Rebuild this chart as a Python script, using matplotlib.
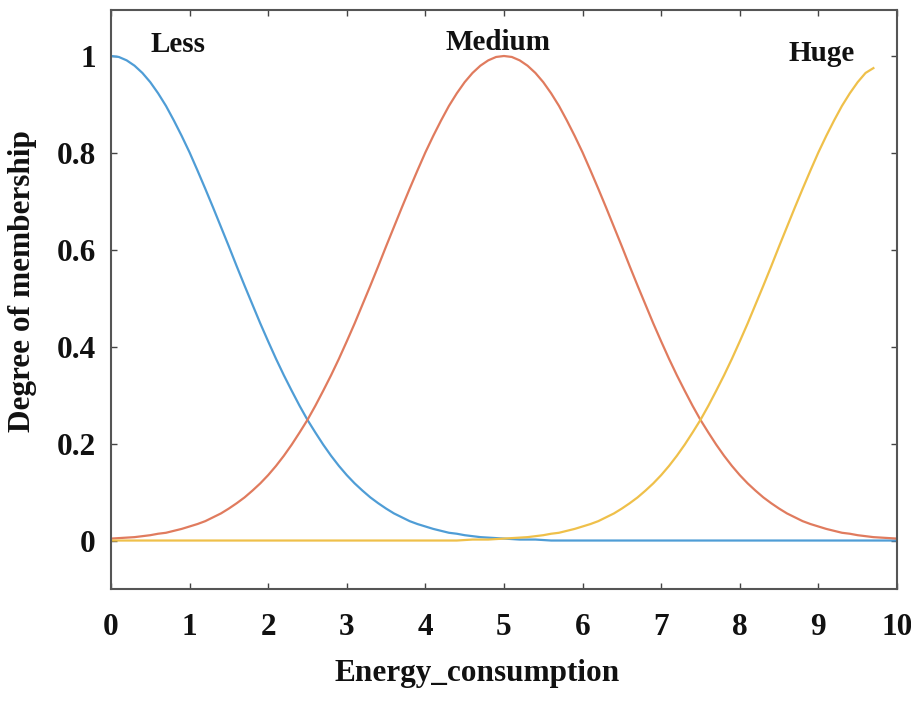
import matplotlib
matplotlib.use("Agg")
import matplotlib.pyplot as plt

# x samples (Energy_consumption)
energy = [0.0, 0.1, 0.2, 0.3, 0.4, 0.5, 0.6, 0.7, 0.8, 0.9,
          1.0, 1.1, 1.2, 1.3, 1.4, 1.5, 1.6, 1.7, 1.8, 1.9,
          2.0, 2.1, 2.2, 2.3, 2.4, 2.5, 2.6, 2.7, 2.8, 2.9,
          3.0, 3.1, 3.2, 3.3, 3.4, 3.5, 3.6, 3.7, 3.8, 3.9,
          4.0, 4.1, 4.2, 4.3, 4.4, 4.5, 4.6, 4.7, 4.8, 4.9,
          5.0, 5.1, 5.2, 5.3, 5.4, 5.5, 5.6, 5.7, 5.8, 5.9,
          6.0, 6.1, 6.2, 6.3, 6.4, 6.5, 6.6, 6.7, 6.8, 6.9,
          7.0, 7.1, 7.2, 7.3, 7.4, 7.5, 7.6, 7.7, 7.8, 7.9,
          8.0, 8.1, 8.2, 8.3, 8.4, 8.5, 8.6, 8.7, 8.8, 8.9,
          9.0, 9.1, 9.2, 9.3, 9.4, 9.5, 9.6, 9.7, 9.8, 9.9,
          10.0]

less = [1.000, 0.998, 0.991, 0.980, 0.965, 0.946, 0.923, 0.897, 0.867, 0.835,
        0.801, 0.764, 0.726, 0.687, 0.647, 0.607, 0.566, 0.526, 0.487, 0.448,
        0.411, 0.375, 0.341, 0.309, 0.278, 0.249, 0.223, 0.198, 0.175, 0.154,
        0.135, 0.118, 0.103, 0.089, 0.077, 0.066, 0.056, 0.048, 0.040, 0.034,
        0.029, 0.024, 0.020, 0.016, 0.014, 0.011, 0.009, 0.007, 0.006, 0.005,
        0.004, 0.003, 0.002, 0.002, 0.002, 0.001, 0.0, 0.0, 0.0, 0.0,
        0.0, 0.0, 0.0, 0.0, 0.0, 0.0, 0.0, 0.0, 0.0, 0.0,
        0.0, 0.0, 0.0, 0.0, 0.0, 0.0, 0.0, 0.0, 0.0, 0.0,
        0.0, 0.0, 0.0, 0.0, 0.0, 0.0, 0.0, 0.0, 0.0, 0.0,
        0.0, 0.0, 0.0, 0.0, 0.0, 0.0, 0.0, 0.0, 0.0, 0.0,
        0.0]

medium = [0.004, 0.005, 0.006, 0.007, 0.009, 0.011, 0.014, 0.016, 0.020, 0.024,
          0.029, 0.034, 0.040, 0.048, 0.056, 0.066, 0.077, 0.089, 0.103, 0.118,
          0.135, 0.154, 0.175, 0.198, 0.223, 0.249, 0.278, 0.309, 0.341, 0.375,
          0.411, 0.448, 0.487, 0.526, 0.566, 0.607, 0.647, 0.687, 0.726, 0.764,
          0.801, 0.835, 0.867, 0.897, 0.923, 0.946, 0.965, 0.980, 0.991, 0.998,
          1.000, 0.998, 0.991, 0.980, 0.965, 0.946, 0.923, 0.897, 0.867, 0.835,
          0.801, 0.764, 0.726, 0.687, 0.647, 0.607, 0.566, 0.526, 0.487, 0.448,
          0.411, 0.375, 0.341, 0.309, 0.278, 0.249, 0.223, 0.198, 0.175, 0.154,
          0.135, 0.118, 0.103, 0.089, 0.077, 0.066, 0.056, 0.048, 0.040, 0.034,
          0.029, 0.024, 0.020, 0.016, 0.014, 0.011, 0.009, 0.007, 0.006, 0.005,
          0.004]

# the Huge curve stops at x = 9.7 in the reference
energy_huge = energy[:98]
huge = [0.0, 0.0, 0.0, 0.0, 0.0, 0.0, 0.0, 0.0, 0.0, 0.0,
        0.0, 0.0, 0.0, 0.0, 0.0, 0.0, 0.0, 0.0, 0.0, 0.0,
        0.0, 0.0, 0.0, 0.0, 0.0, 0.0, 0.0, 0.0, 0.0, 0.0,
        0.0, 0.0, 0.0, 0.0, 0.0, 0.0, 0.0, 0.0, 0.0, 0.0,
        0.0, 0.0, 0.0, 0.0, 0.0, 0.001, 0.002, 0.002, 0.002, 0.003,
        0.004, 0.005, 0.006, 0.007, 0.009, 0.011, 0.014, 0.016, 0.020, 0.024,
        0.029, 0.034, 0.040, 0.048, 0.056, 0.066, 0.077, 0.089, 0.103, 0.118,
        0.135, 0.154, 0.175, 0.198, 0.223, 0.249, 0.278, 0.309, 0.341, 0.375,
        0.411, 0.448, 0.487, 0.526, 0.566, 0.607, 0.647, 0.687, 0.726, 0.764,
        0.801, 0.835, 0.867, 0.897, 0.923, 0.946, 0.965, 0.975]

series_names = ["Less", "Medium", "Huge"]
x_ticks = [0, 1, 2, 3, 4, 5, 6, 7, 8, 9, 10]
y_ticks = [0, 0.2, 0.4, 0.6, 0.8, 1]
y_tick_labels = ["0", "0.2", "0.4", "0.6", "0.8", "1"]

plt.rcParams["font.family"] = ["Liberation Serif", "DejaVu Serif"]
plt.rcParams["font.weight"] = "bold"

fig = plt.figure(figsize=(9.11, 7.02), dpi=100)
ax = fig.add_axes([0.1218, 0.161, 0.8628, 0.8248])

ax.plot(energy, less, color="#4f9dd6", lw=1.6)
ax.plot(energy, medium, color="#e07b5e", lw=1.6)
ax.plot(energy_huge, huge, color="#efc04a", lw=1.6)

ax.set_xlim(0, 10)
ax.set_ylim(-0.1, 1.095)
ax.set_xticks(x_ticks)
ax.set_xticklabels([str(t) for t in x_ticks])
ax.set_yticks(y_ticks)
ax.set_yticklabels(y_tick_labels)

ax.tick_params(direction="in", length=4, width=1, colors="#444444",
               top=True, right=True, labelsize=22.5, labelcolor="#111111")
ax.tick_params(axis="x", pad=17)
ax.tick_params(axis="y", pad=11)
for lab in ax.get_xticklabels() + ax.get_yticklabels():
    lab.set_fontweight("bold")
for sp in ax.spines.values():
    sp.set_color("#555555")
    sp.set_linewidth(1.5)

ax.set_xlabel("Energy_consumption", fontsize=22.5, fontweight="bold", color="#111111")
ax.set_ylabel("Degree of membership", fontsize=22.5, fontweight="bold", color="#111111")
ax.xaxis.set_label_coords(0.466, -0.121)
ax.yaxis.set_label_coords(-0.094, 0.532)

label_pos = [(0.85, 1.023), (4.93, 1.027), (9.04, 1.006)]
for name, (lx, ly) in zip(series_names, label_pos):
    ax.text(lx, ly, name, fontsize=21, fontweight="bold", ha="center", va="center",
            color="#111111")

fig.savefig("out.png", dpi=100)
